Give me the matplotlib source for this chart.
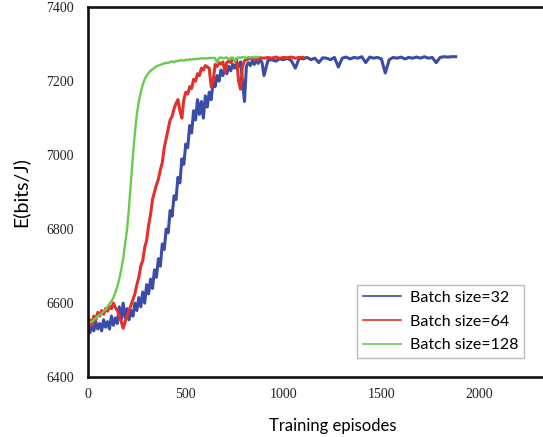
import numpy as np
import matplotlib
matplotlib.use('Agg')
import matplotlib.pyplot as plt

# Batch size=32: every 10 episodes up to 900, then every 20
ep_32 = np.concatenate([np.arange(0, 901, 10), np.arange(920, 1881, 20)])
e_32 = [6545, 6520, 6540, 6525, 6550, 6530, 6545, 6525, 6555, 6535,
        6550, 6530, 6565, 6540, 6560, 6545, 6590, 6555, 6600, 6560,
        6585, 6555, 6580, 6565, 6600, 6580, 6615, 6590, 6630, 6600,
        6650, 6625, 6665, 6640, 6690, 6670, 6720, 6700, 6760, 6745,
        6800, 6790, 6850, 6835, 6890, 6880, 6940, 6925, 6990, 6975,
        7030, 7020, 7080, 7060, 7120, 7095, 7150, 7110, 7145, 7100,
        7160, 7130, 7170, 7150, 7200, 7185, 7215, 7200, 7230, 7215,
        7235, 7220, 7240, 7228, 7245, 7235, 7250, 7240, 7252, 7200,
        7145, 7240, 7250, 7242, 7255, 7245, 7256, 7248, 7258, 7250,
        7215,
        7256, 7258, 7254, 7260, 7258, 7262, 7255, 7235, 7262, 7260,
        7264, 7258, 7262, 7250, 7263, 7262, 7258, 7264, 7238, 7262,
        7265, 7260, 7264, 7262, 7266, 7250, 7265, 7262, 7264, 7260,
        7222, 7258, 7264, 7262, 7265, 7260, 7264, 7262, 7265, 7262,
        7266, 7262, 7264, 7250, 7264, 7266, 7265, 7266, 7266]

# Batch size=64: every 10 episodes up to 800, then every 20
ep_64 = np.concatenate([np.arange(0, 801, 10), np.arange(820, 1101, 20)])
e_64 = [6530, 6555, 6540, 6565, 6555, 6575, 6565, 6580, 6570, 6585,
        6578, 6592, 6585, 6600, 6588, 6580, 6565, 6550, 6532, 6550,
        6565, 6580, 6595, 6610, 6625, 6650, 6670, 6700, 6715, 6750,
        6770, 6810, 6840, 6880, 6900, 6920, 6935, 6960, 6980, 7020,
        7045, 7070, 7095, 7105, 7125, 7140, 7150, 7120, 7100, 7150,
        7170, 7165, 7185, 7180, 7205, 7200, 7220, 7215, 7235, 7230,
        7242, 7238, 7235, 7185, 7200, 7245, 7240, 7250, 7246, 7252,
        7225, 7250, 7255, 7250, 7258, 7255, 7260, 7200, 7178, 7240,
        7255,
        7260, 7262, 7258, 7263, 7262, 7264, 7262, 7265, 7262, 7264,
        7263, 7265, 7262, 7264, 7264]

# Batch size=128: every 10 episodes
ep_128 = np.arange(0, 871, 10)
e_128 = [6540, 6548, 6550, 6555, 6560, 6565, 6568, 6572, 6578, 6582,
         6590, 6598, 6605, 6615, 6628, 6645, 6665, 6690, 6720, 6760,
         6800, 6860, 6930, 7000, 7060, 7110, 7145, 7170, 7190, 7205,
         7215, 7222, 7228, 7232, 7236, 7240, 7242, 7244, 7246, 7248,
         7250, 7249, 7252, 7253, 7251, 7255, 7254, 7256, 7257, 7255,
         7258, 7257, 7259, 7258, 7260, 7259, 7261, 7260, 7262, 7261,
         7262, 7261, 7263, 7262, 7263, 7262, 7250, 7263, 7264, 7262,
         7263, 7264, 7258, 7263, 7264, 7252, 7263, 7264, 7263, 7265,
         7264, 7263, 7265, 7264, 7265, 7264, 7265, 7265]

fig = plt.figure(figsize=(5.43, 4.37), dpi=100)
ax = fig.add_axes([0.162, 0.137, 0.9006, 0.8467])

ax.plot(ep_32, e_32, color='#3a4ca8', lw=2.2, label='Batch size=32')
ax.plot(ep_64, e_64, color='#e2302a', lw=2.2, label='Batch size=64')
ax.plot(ep_128, e_128, color='#66cc4f', lw=1.7, label='Batch size=128')

ax.set_xlim(0, 2500)
ax.set_ylim(6400, 7400)
ax.set_xticks([0, 500, 1000, 1500, 2000])
ax.set_yticks([6400, 6600, 6800, 7000, 7200, 7400])
ax.tick_params(length=0, labelsize=10)
ax.tick_params(axis='y', pad=10)
ax.tick_params(axis='x', pad=8)
for lab in ax.get_xticklabels() + ax.get_yticklabels():
    lab.set_fontfamily('Liberation Serif')
    lab.set_color('#222222')
for s in ax.spines.values():
    s.set_linewidth(1.9)
    s.set_color('#111111')

ax.set_xlabel('Training episodes', fontfamily='Lato', fontsize=12, labelpad=12)
ax.set_ylabel('E(bits/J)', fontfamily='Lato', fontsize=14, labelpad=12)

leg = ax.legend(loc='upper left', bbox_to_anchor=(0.55, 0.2486), borderaxespad=0,
                prop={'family': 'Lato', 'size': 11.5},
                fancybox=False, framealpha=1, edgecolor='#bbbbbb', handlelength=2.4,
                borderpad=0.35, labelspacing=0.6, handletextpad=0.55)
leg.get_frame().set_linewidth(1.0)
for line in leg.get_lines():
    line.set_linewidth(1.2)

fig.savefig('out.png', dpi=100)
